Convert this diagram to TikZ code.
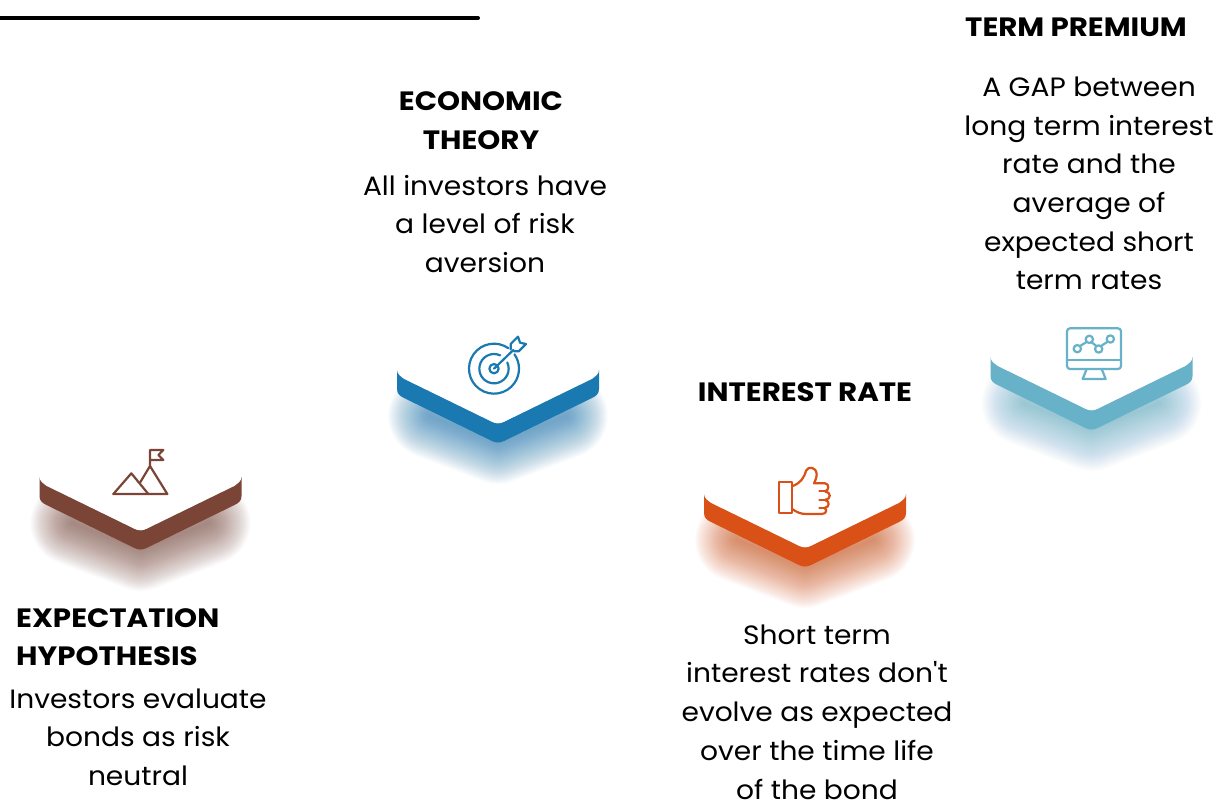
\documentclass[tikz,border=0pt]{standalone}
\usepackage{fontspec}
\newfontfamily\bodyf[FakeStretch=1.06]{Poppins}
\newfontfamily\headf[FakeStretch=1.105]{Poppins}
\definecolor{cbrown}{HTML}{7A4536}
\definecolor{cblue}{HTML}{1B79B2}
\definecolor{corange}{HTML}{D95116}
\definecolor{cteal}{HTML}{67B1C9}
\tikzset{
  headtext/.style={font=\fontsize{26.5}{38.4}\selectfont\headf\bfseries,text=black,inner sep=0pt,align=center},
  bodytext/.style={font=\fontsize{26.5}{38.7}\selectfont\bodyf,text=black,inner sep=0pt,align=center},
  iconline/.style={line width=2.2pt,line join=round,line cap=round,fill=none},
}
\newcommand{\chevron}[3]{% cx, top y, colour
  \begin{scope}[shift={(#1,#2)}]
    \foreach \w in {2,4,...,84}{
      \draw[#3,opacity=0.02,line width=\w pt,line join=round,line cap=round] (-68,46) -- (0,72) -- (68,46);
    }
    \fill[white] (-125,-2) -- (-101,0) .. controls (-101,4) and (-98,6) .. (-94,9) -- (-6,52) .. controls (-2,54) and (2,54) .. (6,52) -- (94,9) .. controls (98,6) and (101,4) .. (101,0) -- (125,-2) -- (125,-25) -- (-125,-25) -- cycle;
    \fill[#3] (-101,0) -- (-101,19) .. controls (-101,24) and (-98,26) .. (-94,28) -- (-6,71) .. controls (-2,73) and (2,73) .. (6,71) -- (94,28) .. controls (98,26) and (101,24) .. (101,19) -- (101,0) .. controls (101,4) and (98,6) .. (94,9) -- (6,52) .. controls (2,54) and (-2,54) .. (-6,52) -- (-94,9) .. controls (-98,6) and (-101,4) .. (-101,0) -- cycle;
  \end{scope}
}
\begin{document}
\begin{tikzpicture}[x=1pt,y=-1pt]
\useasboundingbox (0,0) rectangle (1220,801);
\fill[white] (0,0) rectangle (1220,801);
\draw[line width=4pt,line cap=round] (-4,18) -- (478,18);

\chevron{140.5}{477}{cbrown}
\chevron{498}{370}{cblue}
\chevron{805}{494}{corange}
\chevron{1091.5}{357}{cteal}

% mountain
\begin{scope}[shift={(20,430)},scale=1/3,cbrown]
  \draw[iconline] (280,192) -- (442,192) -- (390,108) -- (360,158);
  \draw[iconline] (280,192) -- (334,130) -- (385,192);
  \draw[iconline] (390,108) -- (390,60) -- (430,60) -- (415,75) -- (430,90) -- (390,90);
\end{scope}
% target
\begin{scope}[shift={(380,320)},scale=1/3,cblue]
  \draw[iconline] (342,146) ++(-55:75) arc[start angle=-55,delta angle=-340,radius=75];
  \draw[iconline] (342,146) ++(-65:44) arc[start angle=-65,delta angle=-320,radius=44];
  \draw[iconline] (342,146) circle[radius=14];
  \draw[iconline] (342,146) -- (400,90);
  \draw[iconline] (392,88) -- (392,72) -- (414,50) -- (420,68) -- (438,72) -- (416,94) -- (402,94);
\end{scope}
% thumb
\begin{scope}[shift={(690,450)},scale=1/3,corange]
  \draw[iconline] (268,96) rectangle (306,190);
  \draw[iconline] (308,108) .. controls (330,100) and (342,85) .. (348,62) .. controls (355,48) and (378,50) .. (380,72) .. controls (380,85) and (375,92) .. (372,100) -- (405,100) .. controls (418,100) and (418,122) .. (405,124) .. controls (424,126) and (424,148) .. (405,150) .. controls (420,152) and (420,172) .. (403,174) .. controls (412,178) and (410,192) .. (395,192) -- (350,192) .. controls (330,192) and (320,186) .. (308,178);
  \draw[iconline] (388,124) -- (405,124);
  \draw[iconline] (388,150) -- (405,150);
  \draw[iconline] (388,174) -- (403,174);
\end{scope}
% monitor
\begin{scope}[shift={(975,315)},scale=1/3,cteal]
  \draw[iconline,rounded corners=3pt] (276,40) rectangle (438,162);
  \draw[iconline] (276,134) -- (438,134);
  \draw[iconline] (335,162) -- (323,192) -- (392,192) -- (380,162);
  \draw[iconline] (307,101) circle[radius=11];
  \draw[iconline] (343,73) circle[radius=11];
  \draw[iconline] (371,102) circle[radius=11];
  \draw[iconline] (406,72) circle[radius=11];
  \draw[iconline] (315,93) -- (335,81);
  \draw[iconline] (350,82) -- (364,93);
  \draw[iconline] (378,93) -- (398,80);
\end{scope}

\node[headtext] (h1) at (481,120.5) {ECONOMIC\\THEORY};
\node[bodytext] (b1) at (485,224) {All investors have\\a level of risk\\aversion};
\node[headtext] (h2) at (1076,27) {TERM PREMIUM};
\node[bodytext] (b2) at (1089,183.5) {A GAP between\\long term interest\\rate and the\\average of\\expected short\\term rates};
\node[headtext] (h3) at (805,392) {INTEREST RATE};
\node[bodytext] (b3) at (817,712) {Short term\\interest rates don't\\evolve as expected\\over the time life\\of the bond};
\node[headtext,anchor=west,align=left] (h4) at (16,637) {EXPECTATION\\HYPOTHESIS};
\node[bodytext] (b4) at (138,737) {Investors evaluate\\bonds as risk\\neutral};
\end{tikzpicture}
\end{document}
